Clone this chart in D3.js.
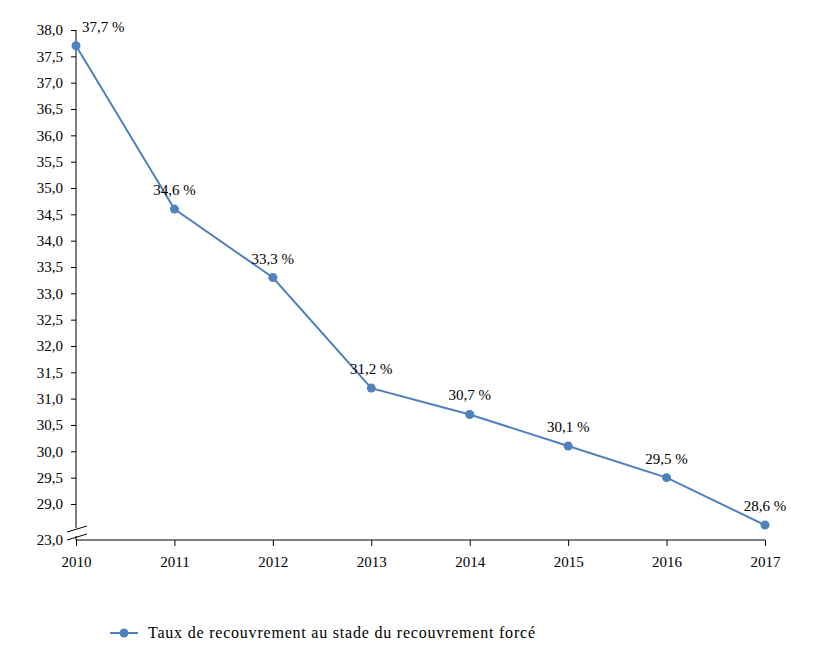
<!DOCTYPE html>
<html lang="fr">
<head>
<meta charset="utf-8">
<title>Taux de recouvrement</title>
<script src="https://d3js.org/d3.v7.js"></script>
<style>
  body { margin: 0; background: #fff; }
</style>
</head>
<body>
<script>
var years = ["2010", "2011", "2012", "2013", "2014", "2015", "2016", "2017"];
var rates = [37.7, 34.6, 33.3, 31.2, 30.7, 30.1, 29.5, 28.6];
var yTicks = [29, 29.5, 30, 30.5, 31, 31.5, 32, 32.5, 33, 33.5, 34, 34.5, 35, 35.5, 36, 36.5, 37, 37.5, 38];
var yBreakLabel = "23,0";
var seriesName = "Taux de recouvrement au stade du recouvrement forcé";

var blue = "#4F81BD";
var serif = "'Liberation Serif', 'DejaVu Serif', 'Times New Roman', serif";
var fmt = d => d3.format(".1f")(d).replace(".", ",");

var svg = d3.select("body").append("svg")
  .attr("width", 818)
  .attr("height", 662)
  .attr("font-family", serif);

var x = d3.scalePoint().domain(years).range([76, 765]);
// axis is broken: the bottom of the plot stands for 23,0
var y = d3.scaleLinear().domain([28.316, 38]).range([540, 30]);

// y axis
var yAxis = svg.append("g")
  .attr("transform", "translate(76,0)")
  .call(d3.axisLeft(y).tickValues(yTicks).tickFormat(fmt).tickSize(5).tickPadding(8).tickSizeOuter(0))
  .attr("font-family", serif)
  .attr("font-size", 15);
yAxis.select(".domain").remove();
yAxis.selectAll("text").attr("fill", "#000");

svg.append("line")
  .attr("x1", 76).attr("x2", 76)
  .attr("y1", y(38)).attr("y2", 528)
  .attr("stroke", "#000");
svg.append("line")
  .attr("x1", 76).attr("x2", 76)
  .attr("y1", 536).attr("y2", 540)
  .attr("stroke", "#000");

// break marks
[529, 537].forEach(function (yy) {
  svg.append("line")
    .attr("x1", 67).attr("y1", yy + 3)
    .attr("x2", 87).attr("y2", yy - 3)
    .attr("stroke", "#000");
});

svg.append("text")
  .attr("x", 63)
  .attr("y", 540)
  .attr("dy", "0.32em")
  .attr("text-anchor", "end")
  .attr("font-size", 15)
  .text(yBreakLabel);

// x axis
var xAxis = svg.append("g")
  .attr("transform", "translate(0,540)")
  .call(d3.axisBottom(x).tickSize(6).tickPadding(10).tickSizeOuter(0))
  .attr("font-family", serif)
  .attr("font-size", 15);
xAxis.select(".domain").attr("d", "M76,0H765");
xAxis.selectAll("text").attr("fill", "#000");

// series
var line = d3.line()
  .x((d, i) => x(years[i]))
  .y(d => y(d));

svg.append("path")
  .datum(rates)
  .attr("d", line)
  .attr("fill", "none")
  .attr("stroke", blue)
  .attr("stroke-width", 2);

svg.append("g").selectAll("circle")
  .data(rates)
  .enter()
  .append("circle")
  .attr("cx", (d, i) => x(years[i]))
  .attr("cy", d => y(d))
  .attr("r", 4.5)
  .attr("fill", blue);

svg.append("g").selectAll("text")
  .data(rates)
  .enter()
  .append("text")
  .attr("x", (d, i) => i == 0 ? x(years[i]) + 6 : x(years[i]))
  .attr("y", d => y(d) - 14)
  .attr("text-anchor", (d, i) => i == 0 ? "start" : "middle")
  .attr("font-size", 15)
  .text(d => fmt(d) + " %");

// legend
var lg = svg.append("g").attr("transform", "translate(110,633)");
lg.append("line")
  .attr("x1", 0).attr("x2", 28)
  .attr("stroke", blue)
  .attr("stroke-width", 2);
lg.append("circle")
  .attr("cx", 14)
  .attr("r", 4.5)
  .attr("fill", blue);
lg.append("text")
  .attr("x", 38)
  .attr("y", 5)
  .attr("font-size", 16)
  .attr("textLength", 387)
  .text(seriesName);
</script>
</body>
</html>
